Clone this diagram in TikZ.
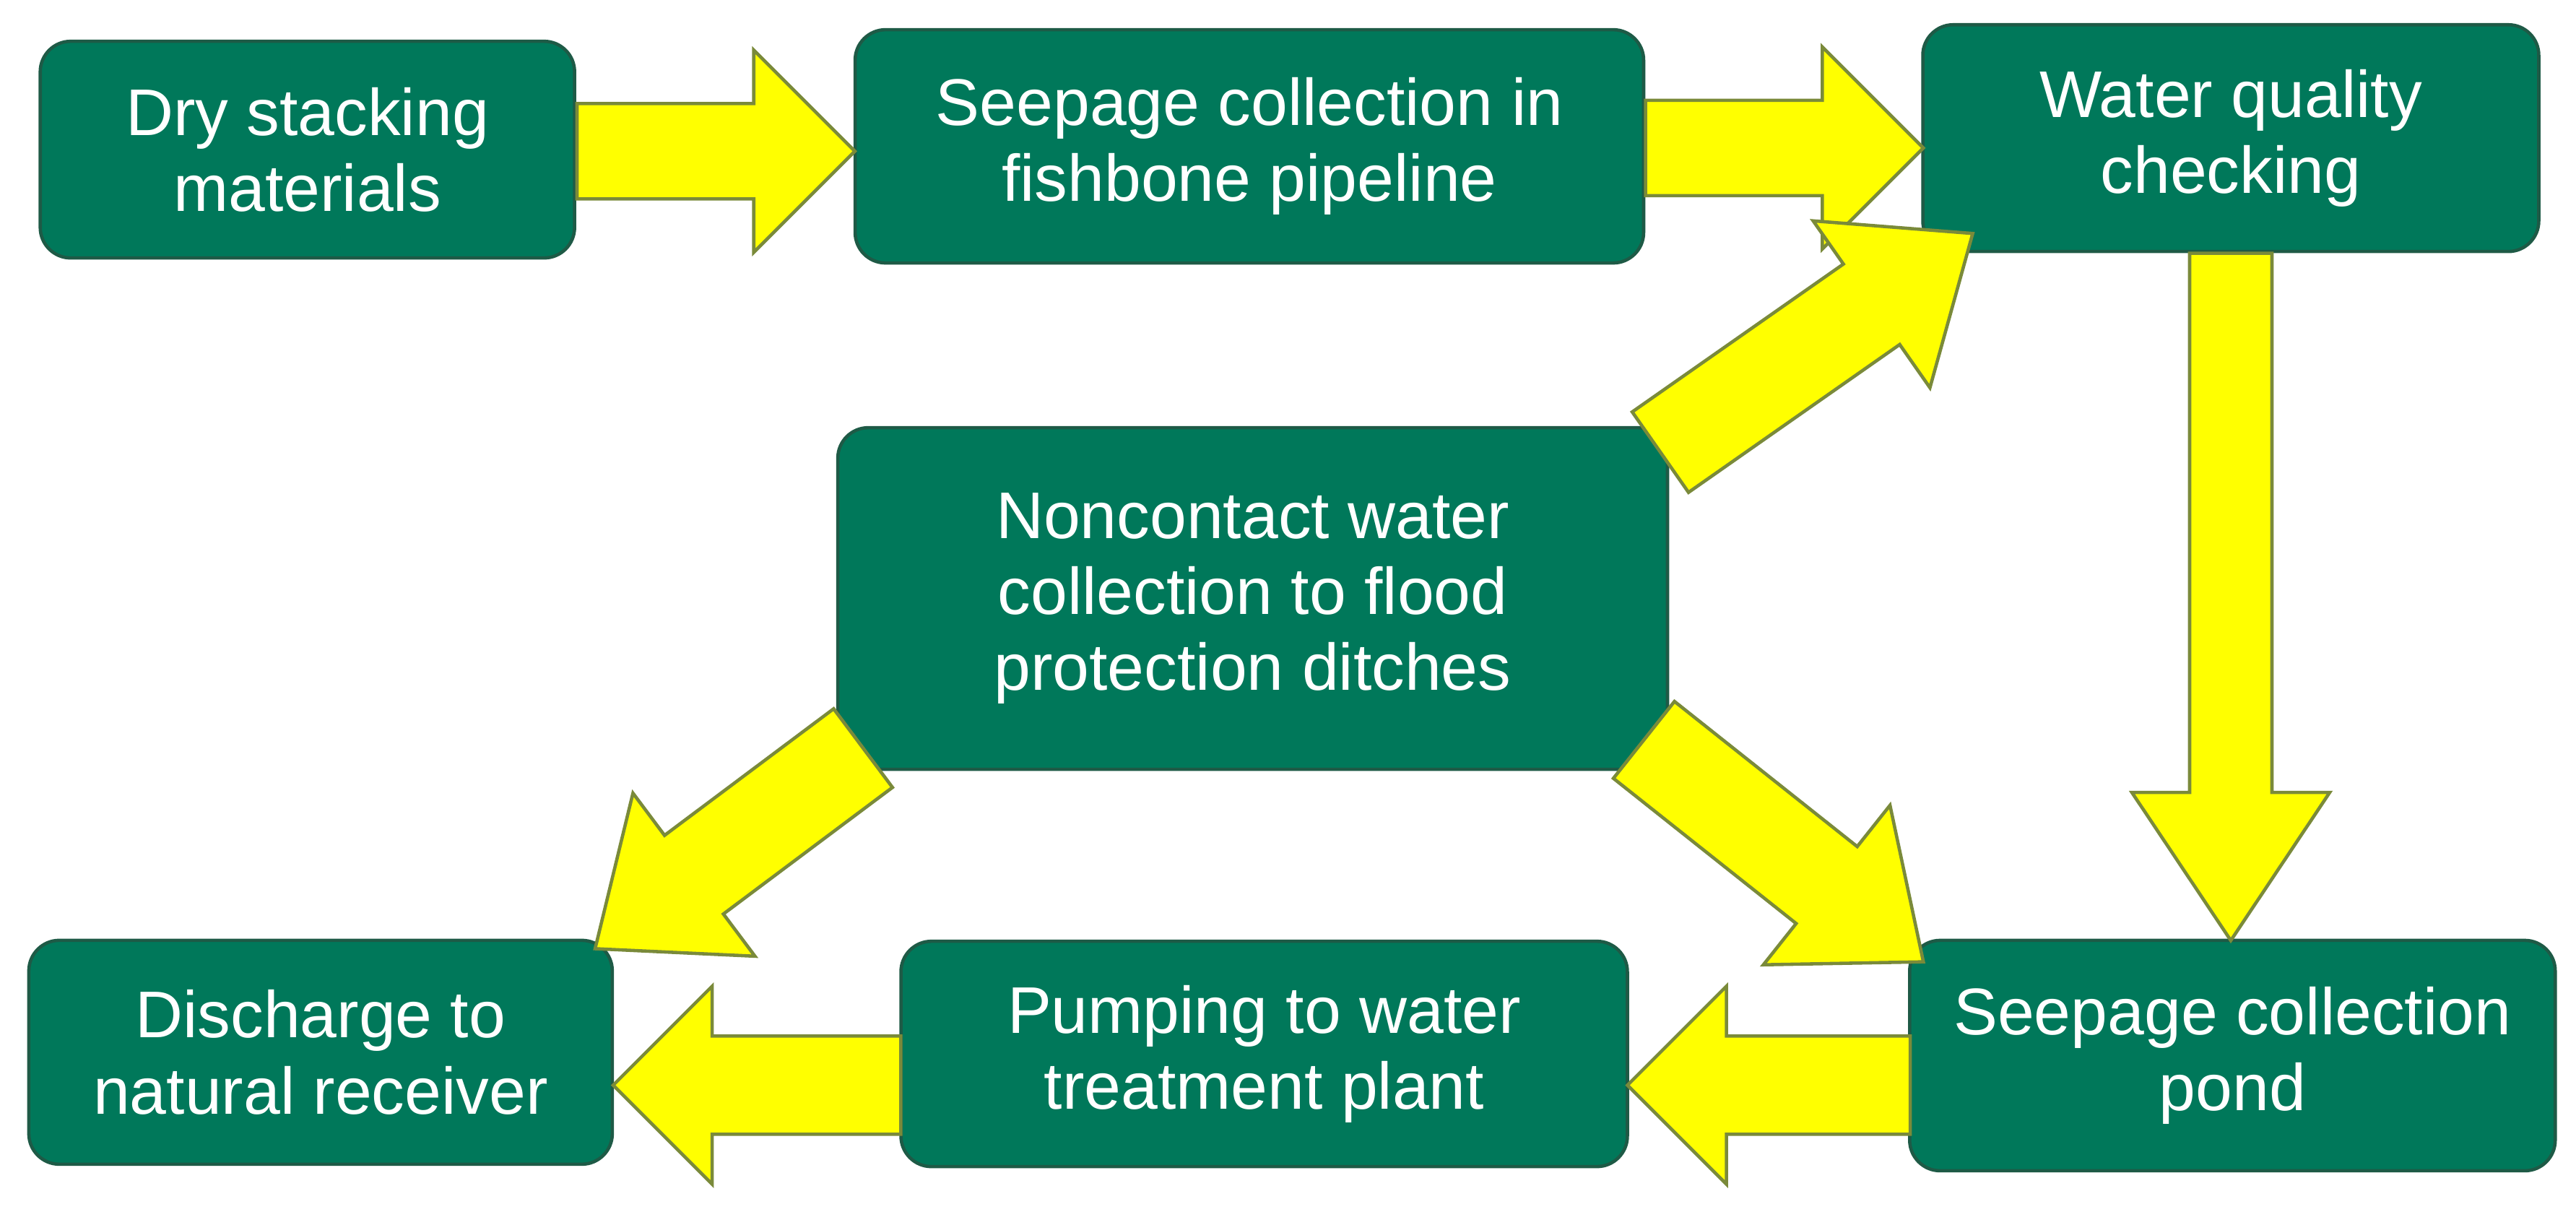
\documentclass[tikz,border=0pt]{standalone}
\usepackage{fontspec}
\setmainfont{Liberation Sans}
\usetikzlibrary{calc}
\definecolor{bx}{HTML}{00785A}
\definecolor{bxd}{HTML}{1E5A46}
\definecolor{ye}{HTML}{FFFF00}
\definecolor{yed}{HTML}{7A8A3A}
\tikzset{box/.style={draw=bxd,line width=1.3pt,fill=bx,rounded corners=12pt,text=white,align=center,font=\fontsize{26}{30}\selectfont,inner sep=0pt},
arr/.style={draw=yed,fill=ye,line width=1.3pt,line join=miter}}
\newcommand\barrow[5]{%
\draw[arr] let \p1=(#1),\p2=(#2),\n1={atan2(\y2-\y1,\x2-\x1)},\n2={veclen(\x2-\x1,\y2-\y1)} in
 [shift={(\p1)},rotate=\n1] (0,-#3)--({\n2-#5},-#3)--({\n2-#5},-#4)--(\n2,0)--({\n2-#5},#4)--({\n2-#5},#3)--(0,#3)--cycle;}
\begin{document}
\begin{tikzpicture}[x=0.02276cm,y=-0.02276cm]
\fill[white] (0,0) rectangle (1567,737);
\node[box,minimum width=7.4cm,minimum height=3.0cm] (a) at (187,91) {Dry stacking\\materials};
\node[box,minimum width=10.92cm,minimum height=3.23cm] (b) at (760,89) {Seepage collection in\\fishbone pipeline};
\node[box,minimum width=8.53cm,minimum height=3.14cm] (c) at (1357,84) {Water quality\\checking};
\node[box,minimum width=11.49cm,minimum height=4.73cm] (d) at (762,364) {Noncontact water\\collection to flood\\protection ditches};
\node[box,minimum width=8.08cm,minimum height=3.1cm] (e) at (195,640) {Discharge to\\natural receiver};
\node[box,minimum width=10.06cm,minimum height=3.12cm] (f) at (769,641) {Pumping to water\\treatment plant};
\node[box,minimum width=8.94cm,minimum height=3.19cm] (g) at (1358,642) {Seepage collection\\pond};
\coordinate (a1) at (351,92); \coordinate (b1) at (520,92);
\coordinate (b2) at (1001,90); \coordinate (c2) at (1170,90);
\coordinate (c3) at (1357,154); \coordinate (g3) at (1357,572);
\coordinate (d4) at (1010,275); \coordinate (c4) at (1200,142);
\coordinate (d5) at (525,455); \coordinate (e5) at (362,577);
\coordinate (d6) at (1000,450); \coordinate (g6) at (1170,585);
\coordinate (g7) at (1162,660); \coordinate (f7) at (990,660);
\coordinate (f8) at (548,660); \coordinate (e8) at (373,660);
\barrow{a1}{b1}{0.66cm}{1.4cm}{1.4cm}
\barrow{b2}{c2}{0.66cm}{1.4cm}{1.4cm}
\barrow{c3}{g3}{0.57cm}{1.37cm}{2.05cm}
\barrow{d4}{c4}{0.68cm}{1.41cm}{1.71cm}
\barrow{d5}{e5}{0.68cm}{1.41cm}{1.71cm}
\barrow{d6}{g6}{0.68cm}{1.41cm}{1.71cm}
\barrow{g7}{f7}{0.68cm}{1.37cm}{1.37cm}
\barrow{f8}{e8}{0.68cm}{1.37cm}{1.37cm}
\end{tikzpicture}
\end{document}
